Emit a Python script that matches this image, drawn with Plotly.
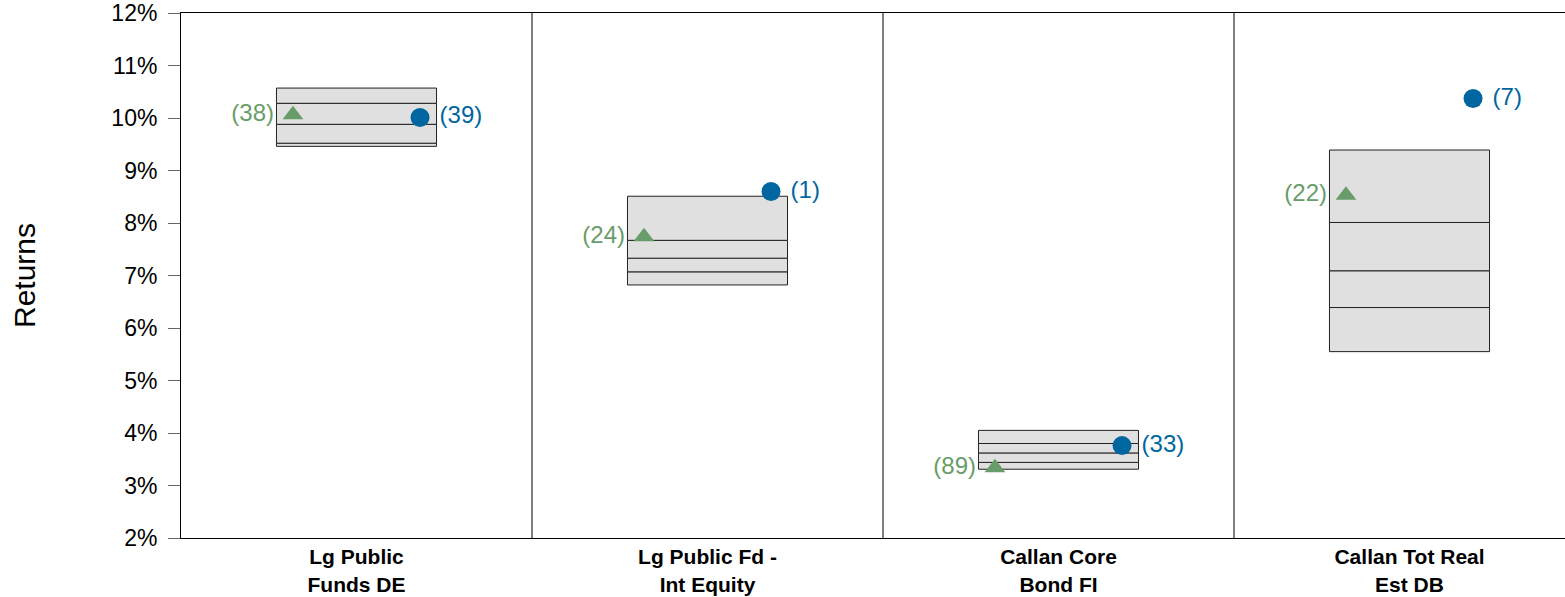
import plotly.graph_objects as go

categories = ["Lg Public<br>Funds DE", "Lg Public Fd -<br>Int Equity",
              "Callan Core<br>Bond FI", "Callan Tot Real<br>Est DB"]
p10 = [10.57, 8.51, 4.05, 9.39]
p25 = [10.28, 7.67, 3.80, 8.01]
median = [9.88, 7.33, 3.62, 7.09]
p75 = [9.52, 7.07, 3.44, 6.39]
p90 = [9.46, 6.82, 3.31, 5.55]

bench_vals = [10.06, 7.74, 3.34, 8.53]
bench_ranks = [38, 24, 89, 22]
fund_vals = [10.01, 8.60, 3.76, 10.37]
fund_ranks = [39, 1, 33, 7]

GREEN = "#689c68"
BLUE = "#00669f"
FONT = "Liberation Sans, Arial, sans-serif"

xs = list(range(len(categories)))
fig = go.Figure()

segments = [(p90, p75), (p75, median), (median, p25), (p25, p10)]
for lo, hi in segments:
    fig.add_trace(go.Bar(
        x=xs, base=lo, y=[h - l for l, h in zip(lo, hi)], width=0.456,
        marker=dict(color="#e0e0e0", line=dict(color="#222222", width=1)),
        showlegend=False, hoverinfo="skip"))

off = 0.181
fig.add_trace(go.Scatter(
    x=[x - off for x in xs], y=bench_vals, mode="markers+text",
    marker=dict(symbol="triangle-up", size=18, color=GREEN),
    text=[f"({r}) " for r in bench_ranks], textposition="middle left",
    textfont=dict(color=GREEN, size=24, family=FONT), showlegend=False))
fig.add_trace(go.Scatter(
    x=[x + off for x in xs], y=fund_vals, mode="markers+text",
    marker=dict(symbol="circle", size=19, color=BLUE),
    text=[f" ({r})" for r in fund_ranks], textposition="middle right",
    textfont=dict(color=BLUE, size=24, family=FONT), showlegend=False))

for i in range(len(categories) - 1):
    fig.add_shape(type="line", xref="x", yref="paper", x0=i + 0.5, x1=i + 0.5,
                  y0=0, y1=1, line=dict(color="black", width=1))

fig.update_layout(
    width=1565, height=597, barmode="overlay",
    margin=dict(l=181, r=0, t=13, b=59),
    plot_bgcolor="white", paper_bgcolor="white",
    font=dict(family=FONT, color="black"),
    showlegend=False,
)
fig.update_xaxes(
    range=[-0.5, 3.443], tickvals=xs,
    ticktext=[f"<b>{c}</b>" for c in categories],
    tickfont=dict(size=21, family=FONT), showline=True, linecolor="black",
    linewidth=1, mirror=True, showgrid=False, ticks="", zeroline=False)
fig.update_yaxes(
    range=[2, 12], dtick=1, ticksuffix="%", tickfont=dict(size=23, family=FONT),
    showline=True, linecolor="black", linewidth=1, mirror=False,
    ticks="outside", ticklen=12, tickcolor="#666666", ticklabelstandoff=6,
    showgrid=False, zeroline=False,
    title=dict(text="Returns", font=dict(size=30, family=FONT), standoff=66))

fig.write_html("out.html", config={"displayModeBar": False},
               post_script="document.body.style.margin='0px';")
